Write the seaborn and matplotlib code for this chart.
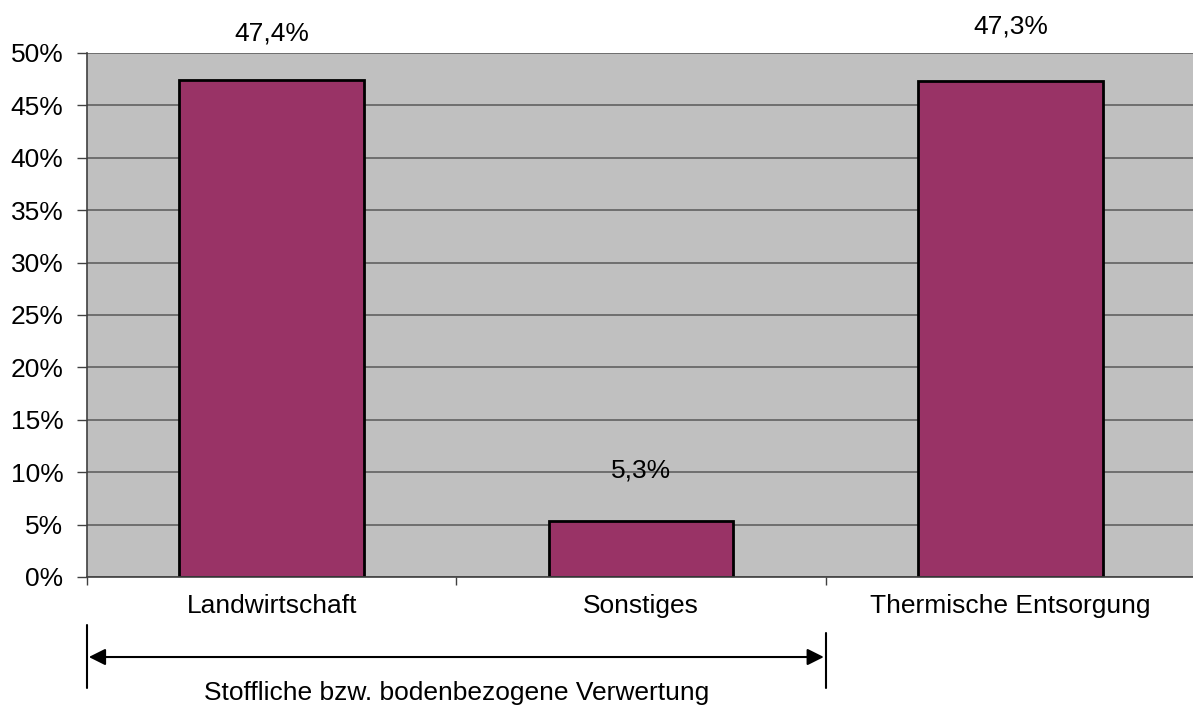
import numpy as np
import pandas as pd
import matplotlib
matplotlib.use("Agg")
import matplotlib.pyplot as plt
import seaborn as sns

# data
categories = ["Landwirtschaft", "Sonstiges", "Thermische Entsorgung"]
shares = [47.4, 5.3, 47.3]
value_labels = ["47,4%", "5,3%", "47,3%"]
y_ticks = [0, 5, 10, 15, 20, 25, 30, 35, 40, 45, 50]
group_label = "Stoffliche bzw. bodenbezogene Verwertung"

df = pd.DataFrame({"Kategorie": categories, "Anteil": shares})

sns.set_style("white")
plt.rcParams["font.family"] = ["Liberation Sans", "DejaVu Sans"]
plt.rcParams["font.size"] = 19
plt.rcParams["text.color"] = "black"
plt.rcParams["xtick.color"] = "black"
plt.rcParams["ytick.color"] = "black"

fig = plt.figure(figsize=(11.93, 7.06), dpi=100)
ax = fig.add_axes([87 / 1193, 129 / 706, 1108 / 1193, 524 / 706])
ax.set_facecolor("#C0C0C0")

sns.barplot(data=df, x="Kategorie", y="Anteil", color="#993366",
            saturation=1, width=0.5, edgecolor="black", linewidth=2, ax=ax)

ax.set_xlim(-0.5, 2.5)
ax.set_ylim(0, 50)
ax.set_yticks(y_ticks)
ax.set_yticklabels([f"{t}%" for t in y_ticks])
ax.yaxis.grid(True, color="#606060", linewidth=1.2)
ax.set_axisbelow(True)
ax.set_xlabel("")
ax.set_ylabel("")

# category boundary ticks on the x axis
ax.set_xticks([-0.5, 0.5, 1.5, 2.5], minor=True)
ax.tick_params(axis="x", which="major", bottom=True, length=0, pad=12,
               labelcolor="black")
ax.tick_params(axis="x", which="minor", bottom=True, length=6, width=1,
               color="#404040", direction="out")
ax.tick_params(axis="y", left=True, length=7, width=1, color="#404040",
               direction="out", pad=10, labelcolor="black")

for side in ["top", "right"]:
    ax.spines[side].set_visible(False)
for side in ["left", "bottom"]:
    ax.spines[side].set_color("#404040")
    ax.spines[side].set_linewidth(1.2)

# value labels above the bars
label_offsets = [25, 28, 31]
for i, (v, txt) in enumerate(zip(shares, value_labels)):
    ax.annotate(txt, (i, v), xytext=(0, label_offsets[i]), textcoords="offset points",
                ha="center", va="bottom", fontsize=19, color="black")

# bracket below the first two categories
trans = ax.get_xaxis_transform()
ax.plot([-0.5, -0.5], [-0.092, -0.212], transform=trans, color="black", lw=1.5, clip_on=False)
ax.plot([1.5, 1.5], [-0.107, -0.212], transform=trans, color="black", lw=1.5, clip_on=False)
ax.annotate("", xy=(-0.495, -0.1527), xytext=(1.495, -0.1527),
            xycoords=trans, textcoords=trans,
            arrowprops=dict(arrowstyle="<|-|>", color="black", lw=1.5,
                            mutation_scale=25, shrinkA=0, shrinkB=0))
ax.text(0.5, -0.222, group_label, transform=trans, ha="center", va="center",
        fontsize=19, color="black")

fig.savefig("out.png", dpi=100)
